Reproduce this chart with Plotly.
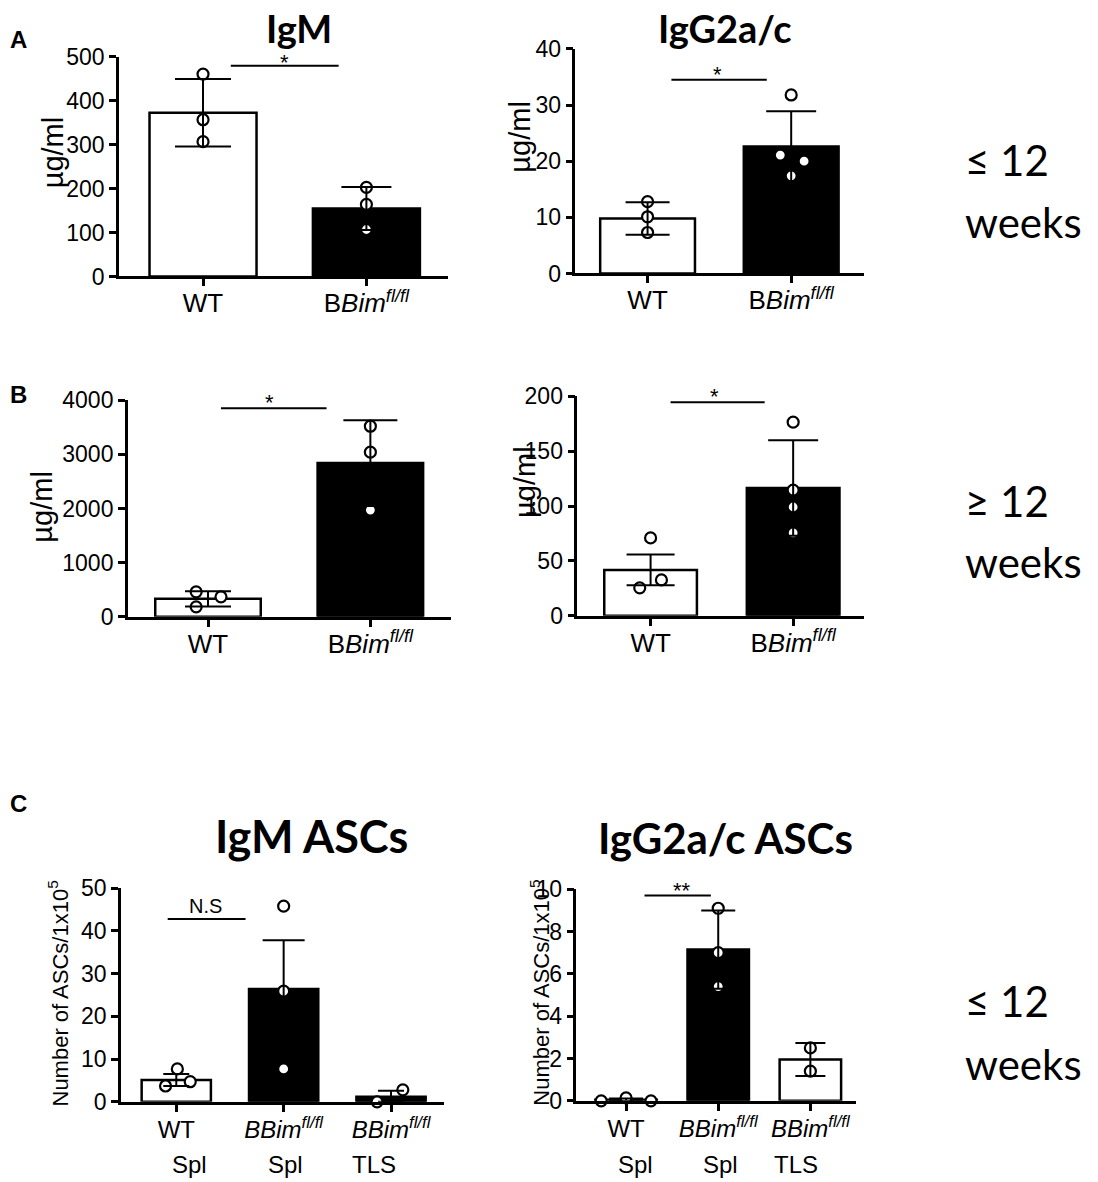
import plotly.graph_objects as go

W, H = 1098, 1182

# ---------------- data ----------------
cats_ab = ["WT", "B<i>Bim</i><sup><i>fl/fl</i></sup>"]
cats_c = ["WT", "<i>BBim</i><sup><i>fl/fl</i></sup>", "<i>BBim</i><sup><i>fl/fl</i></sup>"]
sub_c = ["Spl", "Spl", "TLS"]

# A: <= 12 weeks serum
igm_y_mean = [373, 155]
igm_y_err = [77, 49]
igm_y_wt = [461, 357, 307]
igm_y_ko = [203, 164, 107]

igg_y_mean = [9.8, 22.6]
igg_y_err = [2.9, 6.3]
igg_y_wt = [12.8, 10.1, 7.3]
igg_y_ko = [31.8, 21.1, 20.0, 17.4]
igg_y_ko_jit = [0, -0.076, 0.09, 0]

# B: >= 12 weeks serum
igm_o_mean = [332, 2839]
igm_o_err = [140, 792]
igm_o_wt = [461, 184, 369]
igm_o_wt_jit = [-0.073, -0.073, 0.08]
igm_o_ko = [3520, 3041, 1972]

igg_o_mean = [41.8, 116.4]
igg_o_err = [14.1, 43.6]
igg_o_wt = [70.9, 25.5, 32.7]
igg_o_wt_jit = [0, -0.076, 0.076]
igg_o_ko = [176.4, 114.5, 99.1, 75.5]

# C: ASCs
igm_asc_mean = [5.1, 26.4, 1.2]
igm_asc_errp = [1.4, 11.4, 1.4]
igm_asc_errm = [1.4, 11.4, 1.2]
igm_asc_wt = [3.7, 7.7, 4.7]
igm_asc_wt_jit = [-0.10, 0.01, 0.13]
igm_asc_spl = [45.8, 25.9, 7.7]
igm_asc_tls = [0.0, 2.8]
igm_asc_tls_jit = [-0.13, 0.11]

igg_asc_mean = [0.05, 7.15, 1.95]
igg_asc_err = [0.06, 1.85, 0.78]
igg_asc_wt = [0.0, 0.14, 0.0]
igg_asc_wt_jit = [-0.27, 0, 0.27]
igg_asc_spl = [9.1, 7.0, 5.4]
igg_asc_tls = [2.5, 1.4]

# ---------------- helpers ----------------
def px(x):
    return ((x - 3) / 1.01) / W

def py(y):
    return 1 - ((y - 21) / 0.98) / H

panels = [
    dict(cats=cats_ab, mean=igm_y_mean, errp=igm_y_err, errm=igm_y_err,
         pts=[igm_y_wt, igm_y_ko], jit=[[0]*3, [0]*3], colors=["white", "black"],
         capw=[28, 25], ymax=500, dtick=100, xd=(115, 447), yd=(57, 277),
         xr=(-0.515, 1.497), bw=0.655, xfont=26, stand=-5,
         sig=[(0.17, 0.83, 480, "*", 0.5, -1)]),
    dict(cats=cats_ab, mean=igg_y_mean, errp=igg_y_err, errm=igg_y_err,
         pts=[igg_y_wt, igg_y_ko], jit=[[0]*3, igg_y_ko_jit], colors=["white", "black"],
         capw=[22, 25], ymax=40, dtick=10, xd=(576, 868), yd=(49, 274),
         xr=(-0.503, 1.51), bw=0.66, xfont=26, stand=-5,
         sig=[(0.166, 0.83, 34.5, "*", 0.49, 1)]),
    dict(cats=cats_ab, mean=igm_o_mean, errp=igm_o_err, errm=igm_o_err,
         pts=[igm_o_wt, igm_o_ko], jit=[igm_o_wt_jit, [0]*3], colors=["white", "black"],
         capw=[23, 27], ymax=4000, dtick=1000, xd=(124, 450), yd=(401, 618),
         xr=(-0.494, 1.494), bw=0.65, xfont=26, stand=-5,
         sig=[(0.08, 0.73, 3852, "*", 0.38, 1)]),
    dict(cats=cats_ab, mean=igg_o_mean, errp=igg_o_err, errm=igg_o_err,
         pts=[igg_o_wt, igg_o_ko], jit=[igg_o_wt_jit, [0]*4], colors=["white", "black"],
         capw=[24, 25], ymax=200, dtick=50, xd=(578, 868), yd=(397, 617),
         xr=(-0.514, 1.5), bw=0.65, xfont=26, stand=-5,
         sig=[(0.14, 0.8, 194.5, "*", 0.45, 1)]),
    dict(cats=cats_c, mean=igm_asc_mean, errp=igm_asc_errp, errm=igm_asc_errm,
         pts=[igm_asc_wt, igm_asc_spl, igm_asc_tls],
         jit=[igm_asc_wt_jit, [0]*3, igm_asc_tls_jit], colors=["white", "black", "black"],
         capw=[13, 21, 13], ymax=50, dtick=10, xd=(117, 443), yd=(890, 1104),
         xr=(-0.516, 2.49), bw=0.645, xfont=24, stand=-2,
         sig=[(-0.08, 0.645, 42.8, "N.S", 0.27, 0)]),
    dict(cats=cats_c, mean=igg_asc_mean, errp=igg_asc_err, errm=igg_asc_err,
         pts=[igg_asc_wt, igg_asc_spl, igg_asc_tls],
         jit=[igg_asc_wt_jit, [0]*3, [0]*2], colors=["white", "black", "white"],
         capw=[17, 17, 15], ymax=10, dtick=2, xd=(577, 859), yd=(891, 1103),
         xr=(-0.54, 2.49), bw=0.667, xfont=24, stand=-2,
         sig=[(0.2, 0.92, 9.7, "**", 0.61, 1)]),
]

fig = go.Figure()
shapes = []
annotations = []
layout_axes = {}
TICKFONT = "Liberation Sans, Arial, sans-serif"

for k, p in enumerate(panels, start=1):
    xa = "x" if k == 1 else f"x{k}"
    ya = "y" if k == 1 else f"y{k}"
    n = len(p["cats"])
    # bars
    fig.add_trace(go.Bar(
        x=list(range(n)), y=p["mean"], width=p["bw"], xaxis=xa, yaxis=ya,
        marker=dict(color=p["colors"], line=dict(color="black", width=2.5)),
        showlegend=False, hoverinfo="skip"))
    # individual points
    for i in range(n):
        fig.add_trace(go.Scatter(
            x=[i + j for j in p["jit"][i]], y=p["pts"][i], mode="markers",
            xaxis=xa, yaxis=ya, cliponaxis=False,
            marker=dict(size=11, color="white", line=dict(color="black", width=2.2)),
            showlegend=False, hoverinfo="skip"))
    # error bars (drawn on top of the points)
    for i in range(n):
        fig.add_trace(go.Scatter(
            x=[i], y=[p["mean"][i]], mode="markers", xaxis=xa, yaxis=ya,
            marker=dict(size=1, color="rgba(0,0,0,0)"),
            error_y=dict(type="data", symmetric=False, array=[p["errp"][i]],
                         arrayminus=[p["errm"][i]], width=p["capw"][i],
                         thickness=2, color="black"),
            showlegend=False, hoverinfo="skip"))
    # significance brackets
    for (x0, x1, yv, txt, tx, ys) in p["sig"]:
        shapes.append(dict(type="line", xref=xa, yref=ya, x0=x0, x1=x1, y0=yv, y1=yv,
                           line=dict(color="black", width=2)))
        if "*" in txt:
            annotations.append(dict(xref=xa, yref=ya, x=tx, y=yv, text=txt, showarrow=False,
                                    yanchor="bottom", yshift=ys, height=15, valign="top",
                                    font=dict(family=TICKFONT, size=22, color="black")))
        else:
            annotations.append(dict(xref=xa, yref=ya, x=tx, y=yv, text=txt, showarrow=False,
                                    yanchor="bottom", yshift=ys,
                                    font=dict(family=TICKFONT, size=20, color="black")))
    axis_common = dict(showline=True, linewidth=2.5, linecolor="black", ticks="outside",
                       ticklen=7, tickwidth=2.5, tickcolor="black", showgrid=False,
                       zeroline=False, fixedrange=True)
    layout_axes["xaxis" if k == 1 else f"xaxis{k}"] = dict(
        domain=[px(p["xd"][0]), px(p["xd"][1])], range=list(p["xr"]),
        tickvals=list(range(n)), ticktext=p["cats"], anchor=ya,
        ticklabelstandoff=p["stand"],
        tickfont=dict(family=TICKFONT, size=p["xfont"], color="black"), **axis_common)
    layout_axes["yaxis" if k == 1 else f"yaxis{k}"] = dict(
        domain=[py(p["yd"][1]), py(p["yd"][0])], range=[0, p["ymax"]],
        tick0=0, dtick=p["dtick"], anchor=xa,
        tickfont=dict(family=TICKFONT, size=23, color="black"), **axis_common)

def text(xp, yp, s, size, family, bold=False, angle=0, xanchor="center"):
    annotations.append(dict(xref="paper", yref="paper", x=px(xp), y=py(yp),
                            text=f"<b>{s}</b>" if bold else s, showarrow=False,
                            xanchor=xanchor, yanchor="middle", textangle=angle,
                            font=dict(family=family, size=size, color="black")))

TITLEFONT = "Lato, Open Sans, sans-serif"
# panel titles
text(297, 28, "IgM", 38, TITLEFONT, bold=True)
text(727, 28, "IgG2a/c", 38, TITLEFONT, bold=True)
text(310, 838, "IgM ASCs", 45, TITLEFONT, bold=True)
text(728, 840, "IgG2a/c ASCs", 42, TITLEFONT, bold=True)

# panel letters
text(3, 40, "A", 24, TICKFONT, bold=True, xanchor="left")
text(3, 395, "B", 24, TICKFONT, bold=True, xanchor="left")
text(3, 805, "C", 24, TICKFONT, bold=True, xanchor="left")

# y titles
text(48, 153, "µg/ml", 29, TICKFONT, angle=-90)
text(520, 137, "µg/ml", 29, TICKFONT, angle=-90)
text(37, 508, "µg/ml", 29, TICKFONT, angle=-90)
text(525, 483, "µg/ml", 29, TICKFONT, angle=-90)
text(54, 995, "Number of ASCs/1x10<sup>5</sup>", 22, TICKFONT, angle=-90)
text(540, 995, "Number of ASCs/1x10<sup>5</sup>", 22, TICKFONT, angle=-90)

# tissue sub-labels
for xp, s in zip([186, 283, 373], sub_c):
    text(xp, 1167, s, 24, TICKFONT)
for xp, s in zip([637, 723, 799], sub_c):
    text(xp, 1167, s, 24, TICKFONT)

# age labels
for yp, s in [(160, "≤ 12"), (222, "weeks"), (502, "≥ 12"), (563, "weeks"),
              (1003, "≤ 12"), (1066, "weeks")]:
    text(968, yp, s, 42, TITLEFONT, xanchor="left")

fig.update_layout(
    width=W, height=H, margin=dict(l=0, r=0, t=0, b=0),
    paper_bgcolor="white", plot_bgcolor="white", showlegend=False,
    shapes=shapes, annotations=annotations, **layout_axes)

fig.write_html("out.html")
